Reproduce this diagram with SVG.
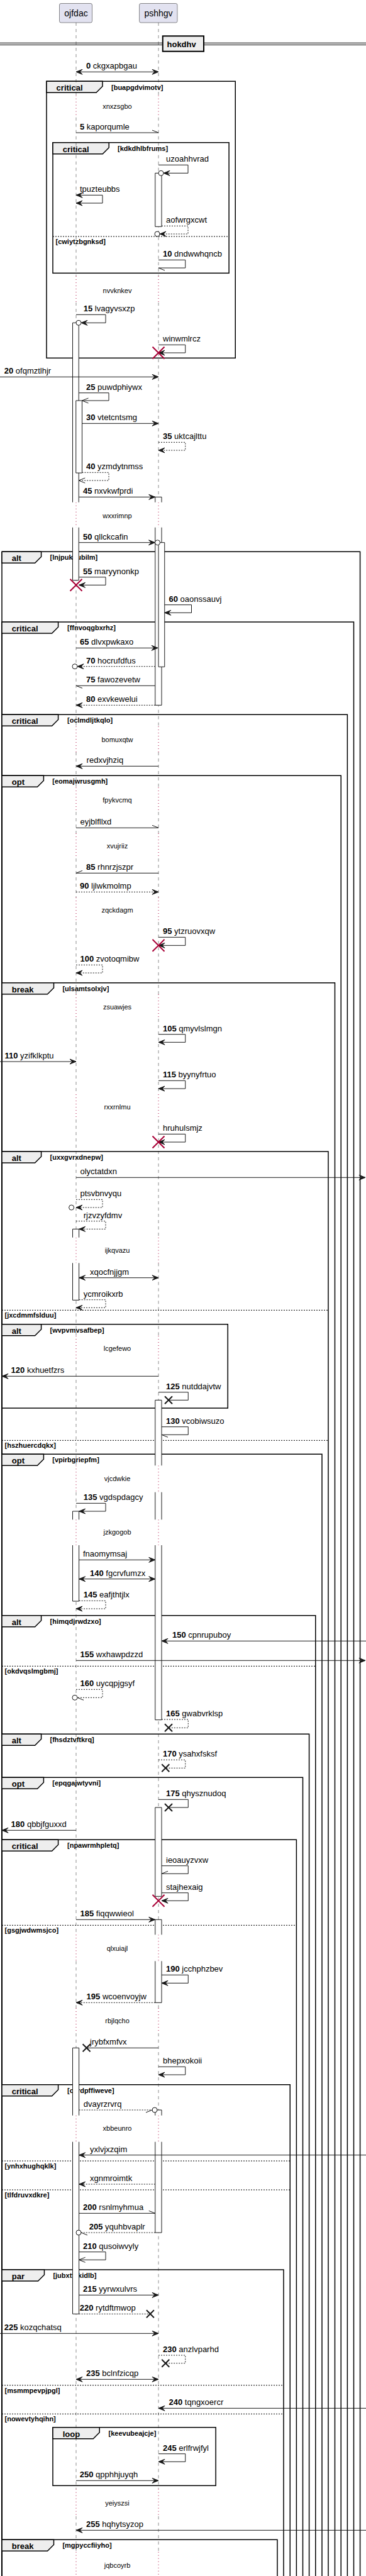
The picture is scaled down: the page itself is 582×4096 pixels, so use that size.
<svg xmlns="http://www.w3.org/2000/svg" width="582" height="4096" viewBox="0 0 582 4096">
<style>
.fr{fill:none;stroke:#000;stroke-width:1.5}
.tab{fill:#EEEEEE;stroke:#000;stroke-width:1.5}
.el{fill:none;stroke:#000;stroke-width:1;stroke-dasharray:2,2}
.ll{fill:none;stroke:#181818;stroke-width:0.5;stroke-dasharray:5,5}
.dl{fill:none;stroke:#A80036;stroke-width:1;stroke-dasharray:1,4}
.ab{fill:#fff;stroke:none}
.ao{fill:none;stroke:#181818;stroke-width:1}
.m{fill:none;stroke:#181818;stroke-width:1}
.d{stroke-dasharray:2,2}
.t{font-family:"Liberation Sans",Arial,sans-serif;font-size:13px;fill:#000}
.n{font-weight:bold}
.g{font-family:"Liberation Sans",Arial,sans-serif;font-size:11px;font-weight:bold;fill:#000}
.fl{font-family:"Liberation Sans",Arial,sans-serif;font-size:13px;font-weight:bold;fill:#000}
.dt{font-family:"Liberation Sans",Arial,sans-serif;font-size:11px;fill:#000;text-anchor:middle}
.rx{stroke:#A80036;stroke-width:2;fill:none}
.bx{stroke:#181818;stroke-width:2;fill:none}
.c{fill:#fff;stroke:#181818;stroke-width:1}
.p{fill:#E2E2F0;stroke:#181818;stroke-width:0.5}
.pt{font-family:"Liberation Sans",Arial,sans-serif;font-size:14px;fill:#000;text-anchor:middle}
</style>
<defs>
<marker id="af" viewBox="-11 -5 12 10" markerWidth="12" markerHeight="10" refX="0" refY="0" orient="auto-start-reverse" markerUnits="userSpaceOnUse"><path d="M0,0 L-10,-4 L-6,0 L-10,4 Z" fill="#181818" stroke="#181818" stroke-width="1"/></marker>
<marker id="ao" viewBox="-11 -5 12 10" markerWidth="12" markerHeight="10" refX="0" refY="0" orient="auto" markerUnits="userSpaceOnUse"><path d="M-10,-4 L0,0 L-10,4" fill="none" stroke="#181818" stroke-width="1"/></marker>
<marker id="hA" viewBox="-11 -5 12 10" markerWidth="12" markerHeight="10" refX="0" refY="0" orient="auto" markerUnits="userSpaceOnUse"><path d="M-10,-4 L0,0" fill="none" stroke="#181818" stroke-width="1"/></marker>
<marker id="hB" viewBox="-11 -5 12 10" markerWidth="12" markerHeight="10" refX="0" refY="0" orient="auto" markerUnits="userSpaceOnUse"><path d="M-10,4 L0,0" fill="none" stroke="#181818" stroke-width="1"/></marker>
<path id="rX" d="M-9.5,-9.5 L9.5,9.5 M-9.5,9.5 L9.5,-9.5"/>
<path id="bX" d="M-6,-6 L6,6 M-6,6 L6,-6"/>
</defs>
<rect width="582" height="4096" fill="#fff"/>

<g id="frames">
<g id="f-buapgdvimotv"><rect class="fr" x="74" y="129.3" width="300.25" height="440"/><polygon class="tab" points="74,129.3 163,129.3 163,137.3 153,147.3 74,147.3"/><text class="fl" x="89.6" y="144.3">critical</text><text class="g" x="177" y="142.5">[buapgdvimotv]</text></g>
<g id="f-kdkdhlbfrums"><rect class="fr" x="84" y="226.7" width="280.1" height="207.6"/><polygon class="tab" points="84,226.7 173.25,226.7 173.25,234.7 163.25,244.7 84,244.7"/><text class="fl" x="99.75" y="241.7">critical</text><text class="g" x="187" y="239.7">[kdkdhlbfrums]</text><path class="el" d="M84,376H364.1"/><text class="g" x="88.5" y="388">[cwiytzbgnksd]</text></g>
<g id="f-lnjpukuubilm"><path class="fr" d="M3,877.3H572.6V4100M3,877.3V4100"/><polygon class="tab" points="3,877.3 65.6,877.3 65.6,885.3 55.6,895.3 3,895.3"/><text class="fl" x="18.75" y="892.3">alt</text><text class="g" x="79.5" y="890.3">[lnjpukuubilm]</text></g>
<g id="f-ffnvoqgbxrhz"><path class="fr" d="M3,989H562.5V4100M3,989V4100"/><polygon class="tab" points="3,989 92.6,989 92.6,997 82.6,1007 3,1007"/><text class="fl" x="18.75" y="1004">critical</text><text class="g" x="107" y="1002">[ffnvoqgbxrhz]</text></g>
<g id="f-oclmdljtkqlo"><path class="fr" d="M3,1136.3H552.4V4100M3,1136.3V4100"/><polygon class="tab" points="3,1136.3 92.6,1136.3 92.6,1144.3 82.6,1154.3 3,1154.3"/><text class="fl" x="18.75" y="1151.3">critical</text><text class="g" x="107" y="1149.3">[oclmdljtkqlo]</text></g>
<g id="f-eomajwrusgmh"><path class="fr" d="M3,1233.3H542.25V4100M3,1233.3V4100"/><polygon class="tab" points="3,1233.3 69.4,1233.3 69.4,1241.3 59.4,1251.3 3,1251.3"/><text class="fl" x="18.75" y="1248.3">opt</text><text class="g" x="83.25" y="1246.3">[eomajwrusgmh]</text></g>
<g id="f-ulsamtsolxjv"><path class="fr" d="M3,1562.7H532.5V4100M3,1562.7V4100"/><polygon class="tab" points="3,1562.7 85.5,1562.7 85.5,1570.7 75.5,1580.7 3,1580.7"/><text class="fl" x="18.75" y="1577.7">break</text><text class="g" x="99.4" y="1575.7">[ulsamtsolxjv]</text></g>
<g id="f-uxxgvrxdnepw"><path class="fr" d="M3,1831H522V4100M3,1831V4100"/><polygon class="tab" points="3,1831 65.6,1831 65.6,1839 55.6,1849 3,1849"/><text class="fl" x="18.75" y="1846">alt</text><text class="g" x="79.5" y="1844">[uxxgvrxdnepw]</text><path class="el" d="M3,2083.3H522"/><text class="g" x="7.5" y="2095.3">[jxcdmmfslduu]</text><path class="el" d="M3,2290.3H522"/><text class="g" x="7.5" y="2302.3">[hszhuercdqkx]</text></g>
<g id="f-wvpvmvsafbep"><rect class="fr" x="3" y="2105.7" width="359.25" height="133.3"/><polygon class="tab" points="3,2105.7 65.6,2105.7 65.6,2113.7 55.6,2123.7 3,2123.7"/><text class="fl" x="18.75" y="2120.7">alt</text><text class="g" x="79.5" y="2118.7">[wvpvmvsafbep]</text></g>
<g id="f-vpirbgriepfm"><path class="fr" d="M3,2312.3H512V4100M3,2312.3V4100"/><polygon class="tab" points="3,2312.3 69.4,2312.3 69.4,2320.3 59.4,2330.3 3,2330.3"/><text class="fl" x="18.75" y="2327.3">opt</text><text class="g" x="83.25" y="2325.3">[vpirbgriepfm]</text></g>
<g id="f-himqdjrwdzxo"><path class="fr" d="M3,2568.7H501.75V4100M3,2568.7V4100"/><polygon class="tab" points="3,2568.7 65.6,2568.7 65.6,2576.7 55.6,2586.7 3,2586.7"/><text class="fl" x="18.75" y="2583.7">alt</text><text class="g" x="79.5" y="2581.7">[himqdjrwdzxo]</text><path class="el" d="M3,2649.3H501.75"/><text class="g" x="7.5" y="2661.3">[okdvqslmgbmj]</text></g>
<g id="f-fhsdztvftkrq"><path class="fr" d="M3,2757.3H491.6V4100M3,2757.3V4100"/><polygon class="tab" points="3,2757.3 65.6,2757.3 65.6,2765.3 55.6,2775.3 3,2775.3"/><text class="fl" x="18.75" y="2772.3">alt</text><text class="g" x="79.5" y="2770.3">[fhsdztvftkrq]</text></g>
<g id="f-epqgajwtyvni"><path class="fr" d="M3,2826.3H481.5V4100M3,2826.3V4100"/><polygon class="tab" points="3,2826.3 69.4,2826.3 69.4,2834.3 59.4,2844.3 3,2844.3"/><text class="fl" x="18.75" y="2841.3">opt</text><text class="g" x="83.25" y="2839.3">[epqgajwtyvni]</text></g>
<g id="f-npawrmhpletq"><path class="fr" d="M3,2925.3H471.4V4100M3,2925.3V4100"/><polygon class="tab" points="3,2925.3 92.6,2925.3 92.6,2933.3 82.6,2943.3 3,2943.3"/><text class="fl" x="18.75" y="2940.3">critical</text><text class="g" x="107" y="2938.3">[npawrmhpletq]</text><path class="el" d="M3,3061.3H471.4"/><text class="g" x="7.5" y="3073.3">[gsgjwdwmsjco]</text></g>
<g id="f-cvrdpffiweve"><path class="fr" d="M3,3314.7H461.25V4100M3,3314.7V4100"/><polygon class="tab" points="3,3314.7 92.6,3314.7 92.6,3322.7 82.6,3332.7 3,3332.7"/><text class="fl" x="18.75" y="3329.7">critical</text><text class="g" x="107" y="3327.7">[cvrdpffiweve]</text><path class="el" d="M3,3436H461.25"/><text class="g" x="7.5" y="3448">[ynhxhughqklk]</text><path class="el" d="M3,3482H461.25"/><text class="g" x="7.5" y="3494">[tlfdruvxdkre]</text></g>
<g id="f-jubxtfekidlb"><path class="fr" d="M3,3609H451V4100M3,3609V4100"/><polygon class="tab" points="3,3609 70.5,3609 70.5,3617 60.5,3627 3,3627"/><text class="fl" x="18.75" y="3624">par</text><text class="g" x="84.4" y="3622">[jubxtfekidlb]</text><path class="el" d="M3,3792.7H451"/><text class="g" x="7.5" y="3804.7">[msmmpevpjpgl]</text><path class="el" d="M3,3838.3H451"/><text class="g" x="7.5" y="3850.3">[nowevtyhqihn]</text></g>
<g id="f-keevubeajcje"><rect class="fr" x="84" y="3859.7" width="259.1" height="92.6"/><polygon class="tab" points="84,3859.7 158.25,3859.7 158.25,3867.7 148.25,3877.7 84,3877.7"/><text class="fl" x="99.75" y="3874.7">loop</text><text class="g" x="172.5" y="3872.7">[keevubeajcje]</text></g>
<g id="f-mgpyccfiiyho"><path class="fr" d="M3,4038.3H441V4100M3,4038.3V4100"/><polygon class="tab" points="3,4038.3 85.5,4038.3 85.5,4046.3 75.5,4056.3 3,4056.3"/><text class="fl" x="18.75" y="4053.3">break</text><text class="g" x="99.4" y="4051.3">[mgpyccfiiyho]</text></g>
</g>

<g id="divider-hokdhv">
<path d="M0,68.3H582M0,71.3H582" stroke="#000" stroke-width="1"/>
<rect x="258.75" y="57.3" width="65.25" height="24.4" fill="#EEEEEE" stroke="#000" stroke-width="2"/>
<text class="fl" x="265.5" y="75">hokdhv</text>
</g>

<g id="lifelines">
<path class="ll" d="M121,36V151.7M121,186.7V439M121,481V798.7M121,838.7V1155M121,1196V1252M121,1291V1325M121,1365V1427M121,1466V1581M121,1620V1740M121,1780V1967.7M121,2008.3V2124M121,2164V2330.3M121,2372.7V2416.3M121,2457V3076.3M121,3118.3V3193M121,3233V3363.7M121,3405.7V3957.7M121,4001V4057.7"/>
<path class="ll" d="M252,36V151.7M252,186.7V439M252,481V798.7M252,838.7V1155M252,1196V1252M252,1291V1325M252,1365V1427M252,1466V1581M252,1620V1740M252,1780V1967.7M252,2008.3V2124M252,2164V2330.3M252,2372.7V2416.3M252,2457V3076.3M252,3118.3V3193M252,3233V3363.7M252,3405.7V3957.7M252,4001V4057.7"/>
<path class="dl" d="M121,151.7V186.7M121,439V481M121,798.7V838.7M121,1155V1196M121,1252V1291M121,1325V1365M121,1427V1466M121,1581V1620M121,1740V1780M121,1967.7V2008.3M121,2124V2164M121,2330.3V2372.7M121,2416.3V2457M121,3076.3V3118.3M121,3193V3233M121,3363.7V3405.7M121,3957.7V4001M121,4057.7V4096"/>
<path class="dl" d="M252,151.7V186.7M252,439V481M252,798.7V838.7M252,1155V1196M252,1252V1291M252,1325V1365M252,1427V1466M252,1581V1620M252,1740V1780M252,1967.7V2008.3M252,2124V2164M252,2330.3V2372.7M252,2416.3V2457M252,3076.3V3118.3M252,3193V3233M252,3363.7V3405.7M252,3957.7V4001M252,4057.7V4096"/>
</g>

<g id="delays">
<text class="dt" x="186.5" y="172.7">xnxzsgbo</text>
<text class="dt" x="186.5" y="466">nvvknkev</text>
<text class="dt" x="186.5" y="823.7">wxxrimnp</text>
<text class="dt" x="186.5" y="1179.7">bomuxqtw</text>
<text class="dt" x="186.5" y="1276.3">fpykvcmq</text>
<text class="dt" x="186.5" y="1349">xvujriiz</text>
<text class="dt" x="186.5" y="1451.3">zqckdagm</text>
<text class="dt" x="186.5" y="1605">zsuawjes</text>
<text class="dt" x="186.5" y="1764.3">rxxrnlmu</text>
<text class="dt" x="186.5" y="1992.3">ijkqvazu</text>
<text class="dt" x="186.5" y="2148.3">lcgefewo</text>
<text class="dt" x="186.5" y="2355.3">vjcdwkie</text>
<text class="dt" x="186.5" y="2440.3">jzkgogob</text>
<text class="dt" x="186.5" y="3101.7">qlxuiajl</text>
<text class="dt" x="186.5" y="3217.3">rbjlqcho</text>
<text class="dt" x="186.5" y="3388.3">xbbeunro</text>
<text class="dt" x="186.5" y="3984.3">yeiyszsi</text>
<text class="dt" x="186.5" y="4082.7">jqbcoyrb</text>
</g>

<g id="ojfdac"><rect class="p" x="94.5" y="5.5" width="52" height="30.5" rx="2.5"/><text class="pt" x="121" y="26">ojfdac</text></g>
<g id="pshhgv"><rect class="p" x="221.6" y="5.5" width="60.4" height="30.5" rx="2.5"/><text class="pt" x="252" y="26">pshhgv</text></g>

<g id="activations">
<rect class="ab" x="115.5" y="513.3" width="9.75" height="285.4"/><path class="ao" d="M115.5,798.7V513.3H125.25V798.7"/>
<rect class="ab" x="115.5" y="838.7" width="9.75" height="84"/><path class="ao" d="M115.5,838.7V922.7H125.25V838.7"/>
<rect class="ab" x="120.75" y="637" width="9.75" height="115"/><path class="ao" d="M120.75,637H130.5V752H120.75Z"/>
<rect class="ab" x="115.5" y="1954.3" width="10.1" height="13.4"/><path class="ao" d="M115.5,1967.7V1954.3H125.6V1967.7"/>
<rect class="ab" x="115.5" y="2008.3" width="10.1" height="59"/><path class="ao" d="M115.5,2008.3V2067.3H125.6V2008.3"/>
<rect class="ab" x="115.5" y="2403" width="10.1" height="13.3"/><path class="ao" d="M115.5,2416.3V2403H125.6V2416.3"/>
<rect class="ab" x="115.5" y="2457" width="10.1" height="89"/><path class="ao" d="M115.5,2457V2546H125.6V2457"/>
<rect class="ab" x="115.5" y="3256.3" width="10.1" height="107.4"/><path class="ao" d="M115.5,3363.7V3256.3H125.6V3363.7"/>
<rect class="ab" x="115.5" y="3405.7" width="10.1" height="273.6"/><path class="ao" d="M115.5,3405.7V3679.3H125.6V3405.7"/>
<rect class="ab" x="246.75" y="275.3" width="10.25" height="85"/><path class="ao" d="M246.75,275.3H257V360.3H246.75Z"/>
<rect class="ab" x="246.75" y="790.3" width="10.25" height="8.4"/><path class="ao" d="M246.75,798.7V790.3H257V798.7"/>
<rect class="ab" x="246.75" y="838.7" width="10.25" height="282.6"/><path class="ao" d="M246.75,838.7V1121.3H257V838.7"/>
<rect class="ab" x="252" y="862.7" width="9.75" height="197.6"/><path class="ao" d="M252,862.7H261.75V1060.3H252Z"/>
<rect class="ab" x="246.75" y="2226.3" width="10.25" height="104"/><path class="ao" d="M246.75,2330.3V2226.3H257V2330.3"/>
<rect class="ab" x="246.75" y="2372.7" width="10.25" height="43.6"/><path class="ao" d="M246.75,2372.7V2416.3M257,2372.7V2416.3"/>
<rect class="ab" x="246.75" y="2457" width="10.25" height="277.7"/><path class="ao" d="M246.75,2457V2734.7H257V2457"/>
<rect class="ab" x="246.75" y="2874" width="10.25" height="141.3"/><path class="ao" d="M246.75,2874H257V3015.3H246.75Z"/>
<rect class="ab" x="246.75" y="3052.3" width="10.25" height="24"/><path class="ao" d="M246.75,3076.3V3052.3H257V3076.3"/>
<rect class="ab" x="246.75" y="3118.3" width="10.25" height="66"/><path class="ao" d="M246.75,3118.3V3184.3H257V3118.3"/>
<rect class="ab" x="246.75" y="3355" width="10.25" height="8.7"/><path class="ao" d="M246.75,3363.7V3355H257V3363.7"/>
<rect class="ab" x="246.75" y="3405.7" width="10.25" height="144.3"/><path class="ao" d="M246.75,3405.7V3550H257V3405.7"/>
</g>

<g id="connectors">
<g><path class="m" d="M121,114.3H252" marker-start="url(#af)" marker-end="url(#af)"/><text class="t" x="137" y="109"><tspan class="n">0</tspan> ckgxapbgau</text></g>
<g><path class="m" d="M121,211H252" marker-end="url(#hA)"/><text class="t" x="127" y="206"><tspan class="n">5</tspan> kaporqumle</text></g>
<g><path class="m" d="M252,262.3H299V275.3H260" marker-end="url(#af)"/><circle class="c" cx="256" cy="275.3" r="4"/><text class="t" x="264" y="257.3">uzoahhvrad</text></g>
<g><path class="m" d="M121,310.3H163V323H121" marker-start="url(#af)" marker-end="url(#af)"/><text class="t" x="127" y="305.3">tpuzteubbs</text></g>
<g><path class="m d" d="M257,359.3H299V372H254" marker-end="url(#af)"/><circle class="c" cx="250" cy="372" r="4"/><text class="t" x="264" y="353.5">aofwrgxcwt</text></g>
<g><path class="m" d="M252,413.3H294.75V426H252" marker-end="url(#hA)"/><text class="t" x="259" y="408"><tspan class="n">10</tspan> dndwwhqncb</text></g>
<g><path class="m" d="M121,500.3H168V513.3H129" marker-end="url(#af)"/><circle class="c" cx="125" cy="513.3" r="4"/><text class="t" x="132.75" y="495.3"><tspan class="n">15</tspan> lvagyvsxzp</text></g>
<g><path class="m" d="M252,548.3H294.75V561H252" marker-end="url(#af)"/><use href="#rX" class="rx" x="252" y="561"/><text class="t" x="259" y="543">winwmlrcz</text></g>
<g><path class="m" d="M0,599.3H252" marker-end="url(#af)"/><text class="t" x="6.75" y="594"><tspan class="n">20</tspan> ofqmztlhjr</text></g>
<g><path class="m" d="M125.25,624.7H173V637H130.5" marker-end="url(#ao)"/><text class="t" x="137" y="619.5"><tspan class="n">25</tspan> puwdphiywx</text></g>
<g><path class="m" d="M130.5,673.3H252" marker-end="url(#af)"/><text class="t" x="137" y="668"><tspan class="n">30</tspan> vtetcntsmg</text></g>
<g><path class="m d" d="M252,703.3H294.75V716H252" marker-end="url(#af)"/><text class="t" x="259" y="698"><tspan class="n">35</tspan> uktcajlttu</text></g>
<g><path class="m d" d="M130.5,751.3H173V764H125.25" marker-end="url(#ao)"/><text class="t" x="137" y="746"><tspan class="n">40</tspan> yzmdytnmss</text></g>
<g><path class="m" d="M125.25,790.3H246.75" marker-end="url(#af)"/><text class="t" x="132" y="785"><tspan class="n">45</tspan> nxvkwfprdi</text></g>
<g><path class="m" d="M125.25,862.7H246.5" marker-end="url(#af)"/><circle class="c" cx="250.5" cy="862.7" r="4"/><text class="t" x="132" y="857.5"><tspan class="n">50</tspan> qllckcafin</text></g>
<g><path class="m" d="M125.25,917.7H168V930.3H125.5" marker-end="url(#af)"/><use href="#rX" class="rx" x="121" y="930.3"/><text class="t" x="132" y="912.5"><tspan class="n">55</tspan> maryynonkp</text></g>
<g><path class="m" d="M261.75,961.7H304.5V974.3H261.75" marker-end="url(#af)"/><text class="t" x="268.5" y="956.5"><tspan class="n">60</tspan> oaonssauvj</text></g>
<g><path class="m" d="M121,1030.3H251" marker-end="url(#af)"/><text class="t" x="127" y="1025"><tspan class="n">65</tspan> dlvxpwkaxo</text></g>
<g><path class="m d" d="M246.75,1059.7H123" marker-end="url(#af)"/><circle class="c" cx="119" cy="1059.7" r="4"/><text class="t" x="137" y="1054.5"><tspan class="n">70</tspan> hocrufdfus</text></g>
<g><path class="m" d="M246.75,1090.3H121" marker-end="url(#hA)"/><text class="t" x="137" y="1085"><tspan class="n">75</tspan> fawozevetw</text></g>
<g><path class="m d" d="M246.75,1121.3H121" marker-end="url(#af)"/><text class="t" x="137" y="1116"><tspan class="n">80</tspan> exvkewelui</text></g>
<g><path class="m" d="M252,1218.3H121" marker-end="url(#af)"/><text class="t" x="137.6" y="1213">redxvjhziq</text></g>
<g><path class="m" d="M121,1316.3H252" marker-end="url(#hA)"/><text class="t" x="127.5" y="1311">eyjblfllxd</text></g>
<g><path class="m" d="M252,1388.3H121" marker-end="url(#hB)"/><text class="t" x="137" y="1383"><tspan class="n">85</tspan> rhnrzjszpr</text></g>
<g><path class="m d" d="M121,1418.3H252" marker-end="url(#af)"/><text class="t" x="127" y="1413"><tspan class="n">90</tspan> ljlwkmolmp</text></g>
<g><path class="m" d="M252,1490.3H294.75V1503.3H252" marker-end="url(#af)"/><use href="#rX" class="rx" x="252" y="1503.3"/><text class="t" x="259" y="1485"><tspan class="n">95</tspan> ytzruovxqw</text></g>
<g><path class="m d" d="M121,1534.3H163V1547H121" marker-end="url(#af)"/><text class="t" x="127.5" y="1529"><tspan class="n">100</tspan> zvotoqmibw</text></g>
<g><path class="m" d="M252,1644.7H294.75V1657.3H252" marker-end="url(#af)"/><text class="t" x="259" y="1639.5"><tspan class="n">105</tspan> qmyvlslmgn</text></g>
<g><path class="m" d="M0,1688H121" marker-end="url(#af)"/><text class="t" x="7.5" y="1682.5"><tspan class="n">110</tspan> yzifklkptu</text></g>
<g><path class="m" d="M252,1718.3H294.75V1731H252" marker-end="url(#af)"/><text class="t" x="259" y="1713"><tspan class="n">115</tspan> byynyfrtuo</text></g>
<g><path class="m" d="M252,1803.3H294.75V1816H252" marker-end="url(#af)"/><use href="#rX" class="rx" x="252" y="1816"/><text class="t" x="259" y="1798">hruhulsmjz</text></g>
<g><path class="m" d="M121,1872.3H581" marker-end="url(#af)"/><text class="t" x="127.5" y="1867">olyctatdxn</text></g>
<g><path class="m d" d="M121,1907.3H163V1920H121" marker-end="url(#af)"/><circle class="c" cx="113.6" cy="1920" r="4"/><text class="t" x="127.5" y="1902">ptsvbnvyqu</text></g>
<g><path class="m d" d="M121,1941.7H168V1954.3H125.6" marker-end="url(#af)"/><text class="t" x="132.75" y="1936.5">rjzvzyfdmv</text></g>
<g><path class="m" d="M125.6,2031.7H252" marker-start="url(#af)" marker-end="url(#af)"/><text class="t" x="143" y="2026.5">xqocfnjjgm</text></g>
<g><path class="m d" d="M125.6,2066.7H168V2079.3H121" marker-end="url(#af)"/><text class="t" x="132.75" y="2061.5">ycmroikxrb</text></g>
<g><path class="m" d="M252,2188.3H3" marker-end="url(#af)"/><text class="t" x="17.6" y="2183"><tspan class="n">120</tspan> kxhuetfzrs</text></g>
<g><path class="m" d="M252,2213.7H299.25V2226.3H268"/><use href="#bX" class="bx" x="268" y="2226.3"/><text class="t" x="264" y="2208.5"><tspan class="n">125</tspan> nutddajvtw</text></g>
<g><path class="m" d="M257,2268.7H299.25V2281.3H257" marker-end="url(#hA)"/><text class="t" x="264" y="2263.5"><tspan class="n">130</tspan> vcobiwsuzo</text></g>
<g><path class="m" d="M121,2390.3H168V2403H125.6" marker-end="url(#af)"/><text class="t" x="132.75" y="2385"><tspan class="n">135</tspan> vgdspdagcy</text></g>
<g><path class="m" d="M125.6,2480.3H246.75" marker-end="url(#af)"/><text class="t" x="132" y="2475">fnaomymsaj</text></g>
<g><path class="m" d="M125.6,2510.7H246.75" marker-start="url(#af)" marker-end="url(#af)"/><text class="t" x="143" y="2505.5"><tspan class="n">140</tspan> fgcrvfumzx</text></g>
<g><path class="m d" d="M125.6,2545.3H168V2558H121" marker-end="url(#af)"/><text class="t" x="132.75" y="2540"><tspan class="n">145</tspan> eafjthtjlx</text></g>
<g><path class="m" d="M582,2609.3H257" marker-end="url(#af)"/><text class="t" x="274" y="2604"><tspan class="n">150</tspan> cpnrupuboy</text></g>
<g><path class="m" d="M121,2640.3H581" marker-end="url(#af)"/><text class="t" x="127.5" y="2635"><tspan class="n">155</tspan> wxhawpdzzd</text></g>
<g><path class="m d" d="M121,2686.3H163V2699.3H123" marker-end="url(#hA)"/><circle class="c" cx="119" cy="2699.3" r="4"/><text class="t" x="127.5" y="2681"><tspan class="n">160</tspan> uycqpjgsyf</text></g>
<g><path class="m d" d="M257,2734H299.25V2747.3H268"/><use href="#bX" class="bx" x="268" y="2747.3"/><text class="t" x="264" y="2729"><tspan class="n">165</tspan> gwabvrklsp</text></g>
<g><path class="m d" d="M252,2798.3H294.75V2811.3H263.25"/><use href="#bX" class="bx" x="263.25" y="2811.3"/><text class="t" x="259" y="2793"><tspan class="n">170</tspan> ysahxfsksf</text></g>
<g><path class="m" d="M252,2861.3H299.25V2874H268"/><use href="#bX" class="bx" x="268" y="2874"/><text class="t" x="264" y="2856"><tspan class="n">175</tspan> qhysznudoq</text></g>
<g><path class="m" d="M121,2910.3H3" marker-end="url(#af)"/><text class="t" x="17.6" y="2905"><tspan class="n">180</tspan> qbbjfguxxd</text></g>
<g><path class="m" d="M257,2966.7H299.25V2979.3H257" marker-end="url(#hB)"/><text class="t" x="264" y="2961.5">ieoauyzvxw</text></g>
<g><path class="m" d="M257,3009.7H299.25V3022.3H257" marker-end="url(#af)"/><use href="#rX" class="rx" x="252" y="3022.3"/><text class="t" x="264" y="3004.5">stajhexaig</text></g>
<g><path class="m" d="M121,3052.3H246.75" marker-end="url(#af)"/><text class="t" x="127.5" y="3047"><tspan class="n">185</tspan> fiqqwwieol</text></g>
<g><path class="m" d="M257,3140.3H299.25V3153.3H257" marker-end="url(#af)"/><text class="t" x="264" y="3135"><tspan class="n">190</tspan> jcchphzbev</text></g>
<g><path class="m d" d="M246.75,3184.3H121" marker-end="url(#af)"/><text class="t" x="137.6" y="3179"><tspan class="n">195</tspan> wcoenvoyjw</text></g>
<g><path class="m" d="M252,3256.3H137.6"/><use href="#bX" class="bx" x="137.6" y="3256.3"/><text class="t" x="143" y="3251">jrybfxmfvx</text></g>
<g><path class="m" d="M252,3286.3H294.75V3299H252" marker-end="url(#af)"/><text class="t" x="259" y="3281">bhepxokoii</text></g>
<g><path class="m d" d="M125.6,3355H242" marker-end="url(#hB)"/><circle class="c" cx="246" cy="3355" r="4"/><text class="t" x="132.75" y="3350">dvayrzrvrq</text></g>
<g><path class="m" d="M582,3426.7H125.6" marker-end="url(#af)"/><text class="t" x="143" y="3421.5">yxlvjxzqim</text></g>
<g><path class="m d" d="M246.75,3473H125.6" marker-end="url(#af)"/><text class="t" x="143" y="3468">xgnmroimtk</text></g>
<g><path class="m" d="M125.6,3519.3H246.75" marker-end="url(#hA)"/><text class="t" x="132" y="3514"><tspan class="n">200</tspan> rsnlmyhmua</text></g>
<g><path class="m d" d="M246.75,3550H129" marker-end="url(#hA)"/><circle class="c" cx="125" cy="3550" r="4"/><text class="t" x="141.75" y="3545"><tspan class="n">205</tspan> yquhbvaplr</text></g>
<g><path class="m" d="M125.6,3580.7H168V3593.3H125.6" marker-end="url(#ao)"/><text class="t" x="132" y="3575.5"><tspan class="n">210</tspan> qusoiwvyly</text></g>
<g><path class="m" d="M125.6,3649.3H252" marker-end="url(#af)"/><text class="t" x="132" y="3644"><tspan class="n">215</tspan> yyrwxulvrs</text></g>
<g><path class="m d" d="M125.6,3679.3H238.9"/><use href="#bX" class="bx" x="238.9" y="3679.3"/><text class="t" x="126.75" y="3674"><tspan class="n">220</tspan> rytdftmwop</text></g>
<g><path class="m" d="M0,3710.3H252" marker-end="url(#af)"/><text class="t" x="6.75" y="3705"><tspan class="n">225</tspan> kozqchatsq</text></g>
<g><path class="m d" d="M252,3745H294.75V3757.7H263.25"/><use href="#bX" class="bx" x="263.25" y="3757.7"/><text class="t" x="259" y="3740"><tspan class="n">230</tspan> anzlvparhd</text></g>
<g><path class="m" d="M121,3783.3H252" marker-start="url(#af)" marker-end="url(#af)"/><text class="t" x="137" y="3778"><tspan class="n">235</tspan> bclnfzicqp</text></g>
<g><path class="m" d="M582,3829.3H252" marker-end="url(#af)"/><text class="t" x="268.5" y="3824"><tspan class="n">240</tspan> tqngxoercr</text></g>
<g><path class="m" d="M252,3901.7H294.75V3914.3H252" marker-end="url(#af)"/><text class="t" x="259" y="3896.5"><tspan class="n">245</tspan> erlfrwjfyl</text></g>
<g><path class="m" d="M121,3944.3H252" marker-end="url(#af)"/><text class="t" x="126.75" y="3939"><tspan class="n">250</tspan> qpphhjuyqh</text></g>
<g><path class="m" d="M582,4023.3H121" marker-end="url(#af)"/><text class="t" x="137" y="4018"><tspan class="n">255</tspan> hqhytsyzop</text></g>
</g>
</svg>
